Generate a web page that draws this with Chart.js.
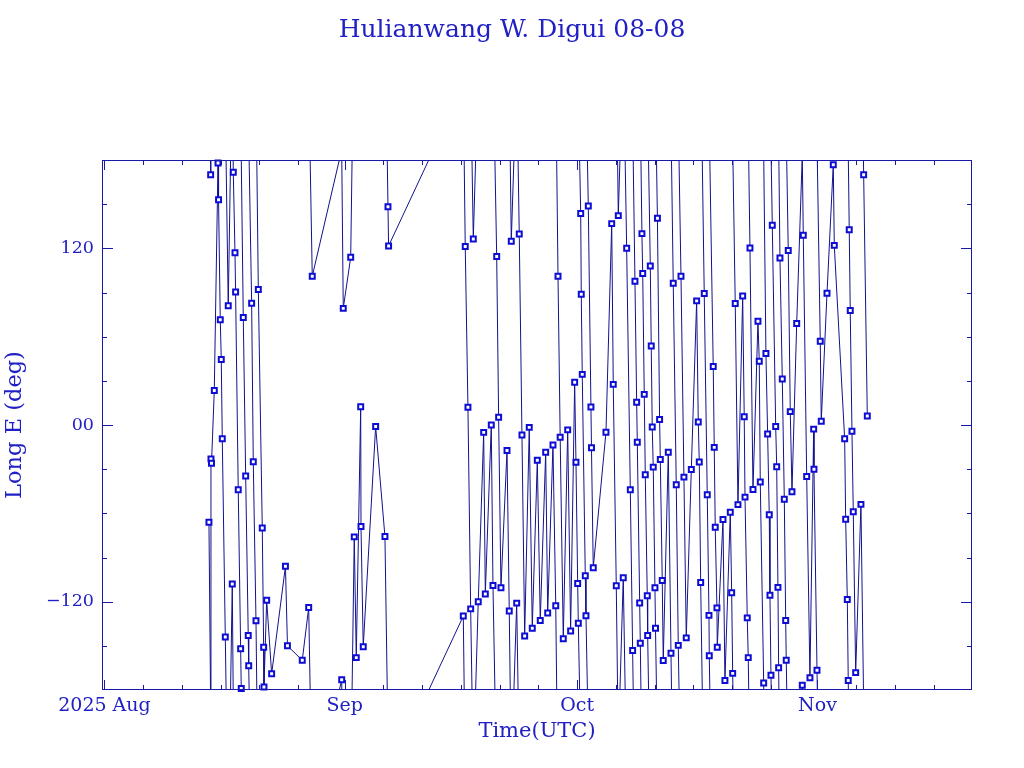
<!DOCTYPE html>
<html>
<head>
<meta charset="utf-8">
<title>Hulianwang W. Digui 08-08</title>
<script src="https://cdn.jsdelivr.net/npm/chart.js@4.4.1/dist/chart.umd.min.js"></script>
<style>
  html, body { margin: 0; padding: 0; background: #fff; }
  #wrap { width: 1024px; height: 768px; }
</style>
</head>
<body>
<div id="wrap"><canvas id="c" width="1024" height="768"></canvas></div>
<script>
// epoch of each element set, days after 2025-08-01 00:00 UTC
const dayOffset = [
  13.48, 13.70, 13.74, 13.81, 14.17, 14.65, 14.72, 14.94, 15.07, 15.20,
  15.59, 15.97, 16.49, 16.62, 16.84, 16.92, 17.26, 17.57, 17.65, 17.91,
  18.22, 18.55, 18.61, 18.99, 19.20, 19.55, 19.85, 20.36, 20.54, 20.58,
  20.93, 21.57, 23.35, 23.61, 25.52, 26.35, 26.81, 30.61, 30.81, 31.77,
  32.23, 32.49, 33.06, 33.10, 33.39, 34.99, 36.19, 36.58, 36.66,
  46.30, 46.55, 46.90, 47.25, 47.59, 48.23, 48.93, 49.14, 49.91, 50.13,
  50.61, 50.86, 51.16, 51.94, 52.23, 52.49, 53.19, 53.52, 53.87, 54.22,
  54.81, 55.20, 55.85, 56.23, 56.93, 57.19, 57.87, 58.23, 58.52, 58.80,
  59.20, 59.77, 60.15, 60.67, 60.84, 61.06, 61.14, 61.45, 61.52, 61.65,
  62.04, 62.13, 62.43, 62.77, 62.84, 63.07, 64.71, 65.45, 65.65, 66.04,
  66.30, 66.94, 67.38, 67.85, 68.15, 68.45, 68.67, 68.75, 69.06, 69.14,
  69.35, 69.45, 69.65, 69.78, 70.04, 70.09, 70.43, 70.55, 70.68, 70.81,
  71.03, 71.10, 71.35, 71.63, 71.72, 71.97, 72.10, 72.75, 73.10, 73.39,
  73.78, 74.04, 74.39, 74.77, 75.07, 75.72, 76.41, 76.62, 76.75, 76.93,
  77.39, 77.78, 78.00, 78.04, 78.55, 78.68, 78.81, 79.03, 79.07, 79.81,
  80.06, 80.75, 80.93, 81.06, 81.39, 81.74, 82.35, 82.55, 82.65, 82.94,
  83.07, 83.29, 83.68, 84.32, 84.49, 84.62, 85.06, 85.35, 85.57, 85.78,
  85.87, 86.00, 86.17, 86.61, 86.74, 86.90, 86.99, 87.16, 87.46, 87.72,
  87.90, 87.97, 88.23, 88.49, 88.71, 89.32, 90.04, 90.17, 90.61, 91.03,
  91.51, 91.55, 91.94, 92.36, 92.49, 93.23, 94.04, 94.17, 95.51, 95.64,
  95.85, 95.97, 96.10, 96.23, 96.45, 96.62, 96.93, 97.61, 97.96, 98.43
];
// sub-satellite longitude at epoch, degrees east
const longitudeE = [
  -66, 170, -23, -26, 23.4, 178, 153, 71.5, 44.5, -9.4,
  -144, 81, -108, 171.7, 117, 90.4, -44, -152, -179, 73,
  -34.6, -143, -163.5, 82.7, -25, -133, 92, -70, -151, -178,
  -119, -169, -96, -150, -159.8, -124, 101, -173, 79.2, 113.9,
  -76, -158, 12.4, -69, -150.6, -1, -75.7, 148.3, 121.6,
  -129.8, 121.3, 12, -124.9, 126.3, -120, -5, -114.8, 0, -109,
  114.5, 5.2, -110.6, -17.3, -126.3, 124.8, -121, 129.8, -6.8, -143.3,
  -1.6, -138, -24, -132.8, -18.5, -127.7, -13.6, -122.8, 101, -8.3,
  -145.2, -3.3, -139.9, 29, -25.3, -107.7, -134.7, 143.6, 88.8, 34.4,
  -102.4, -129.6, 148.8, 12.2, -15.5, -97, -4.9, 136.8, 27.6, -109.2,
  142.2, -103.8, 120, -44, -153.2, 97.7, 15.5, -11.7, -120.9, -148.3,
  130, 102.9, 20.8, -33.8, -116, -143, 108, 53.7, -1.4, -28.6,
  -110.6, -138, 140.5, 3.8, -23.4, -105.6, -160, -18.5, -155, 96.3,
  -40.6, -149.7, 101, -35.4, -144.6, -30.2, 84.3, 2.1, -25.1, -107,
  89.3, -47.4, -129.3, -156.7, 39.8, -15.2, -69.4, -124.2, -151, -64.2,
  -173.6, -59.3, -114, -168.7, 82.5, -54.1, 87.6, 5.6, -49, -131,
  -158, 120.2, -43.8, 70.5, 43.3, -38.7, -175.2, 48.5, -6.1, -61,
  -115.7, -170, 135.7, -1, -28.3, -110.3, -164.9, 113.4, 31.2, -50.4,
  -132.8, -159.8, 118.5, 9.1, -45.3, 68.9, -176.8, 128.9, -35, -171.7,
  -2.8, -30, -166.6, 56.9, 2.6, 89.5, 176.8, 122, -9.4, -64,
  -118.5, -173.6, 132.6, 77.8, -4.2, -58.9, -168.2, -53.9, 170, 6.1
];

// time axis (days after 2025-08-01)
const xMin = -0.32;
const xMax = 111.94;
const monthTicks = [0, 31, 61, 92];
const monthLabels = ['2025 Aug', 'Sep', 'Oct', 'Nov'];
const minorDayTicks = [5, 10, 15, 20, 25, 36, 41, 46, 51, 56, 66, 71, 76, 81, 86, 97, 102, 107];

// longitude axis
const lonTicks = [-150, -120, -90, -60, -30, 0, 30, 60, 90, 120, 150];
const lonLabels = { '-120': '\u2212120', '0': '00', '120': '120' };

const textColor = '#2020c4';
const axisColor = '#1a1aa8';
const lineColor = '#12128c';
const markColor = '#0c0cd4';
const fontFam = "'DejaVu Serif', 'Liberation Serif', serif";

const points = dayOffset.map((d, i) => ({ x: d, y: longitudeE[i] })).sort((a, b) => a.x - b.x);

// connect consecutive epochs the short way round; a wrap runs off one edge and back in at the other
const track = [points[0]];
for (let i = 1; i < points.length; i++) {
  const p1 = points[i - 1], p2 = points[i];
  const dl = p2.y - p1.y;
  if (Math.abs(dl) <= 180) {
    track.push(p2);
  } else {
    const s = dl > 0 ? -360 : 360;
    track.push({ x: p2.x, y: p2.y + s });
    track.push({ x: p2.x, y: null });
    track.push({ x: p1.x, y: p1.y - s });
    track.push(p2);
  }
}

// frame with inward ticks on all four sides
const frameTicks = {
  id: 'frameTicks',
  afterDatasetsDraw(chart) {
    const { ctx, chartArea: a, scales: { x, y } } = chart;
    ctx.save();
    ctx.strokeStyle = axisColor;
    ctx.lineWidth = 1;
    ctx.strokeRect(a.left + 0.5, a.top + 0.5, a.right - a.left - 1, a.bottom - a.top - 1);
    ctx.beginPath();
    const xt = (v, len) => {
      const px = Math.round(x.getPixelForValue(v)) + 0.5;
      ctx.moveTo(px, a.bottom); ctx.lineTo(px, a.bottom - len);
      ctx.moveTo(px, a.top); ctx.lineTo(px, a.top + len);
    };
    const yt = (v, len) => {
      const py = Math.round(y.getPixelForValue(v)) + 0.5;
      ctx.moveTo(a.left, py); ctx.lineTo(a.left + len, py);
      ctx.moveTo(a.right, py); ctx.lineTo(a.right - len, py);
    };
    monthTicks.forEach(v => xt(v, 10));
    minorDayTicks.forEach(v => xt(v, 5));
    lonTicks.forEach(v => yt(v, v % 120 === 0 ? 11 : 5));
    ctx.stroke();
    ctx.restore();
  }
};

new Chart(document.getElementById('c'), {
  type: 'line',
  data: {
    datasets: [
      {
        label: 'epochs',
        data: points,
        showLine: false,
        pointStyle: 'rect',
        pointRadius: 3.5,
        pointBorderWidth: 2,
        pointBorderColor: markColor,
        pointBackgroundColor: '#ffffff',
        clip: false
      },
      {
        label: 'track',
        data: track,
        borderColor: lineColor,
        borderWidth: 1,
        pointRadius: 0,
        tension: 0,
        spanGaps: false,
        clip: 0
      }
    ]
  },
  options: {
    responsive: false,
    animation: false,
    events: [],
    layout: { padding: 0 },
    plugins: {
      legend: { display: false },
      tooltip: { enabled: false },
      title: {
        display: true,
        text: 'Hulianwang W. Digui 08-08',
        color: textColor,
        font: { family: fontFam, size: 25, weight: 'normal' },
        padding: { top: 15, bottom: 115 }
      }
    },
    scales: {
      x: {
        type: 'linear',
        min: xMin,
        max: xMax,
        afterBuildTicks: s => { s.ticks = monthTicks.map(v => ({ value: v })); },
        afterFit: s => { s.height = 78; },
        grid: { display: false, drawTicks: false },
        border: { display: false },
        ticks: {
          autoSkip: false,
          maxRotation: 0,
          padding: 5,
          color: textColor,
          font: { family: fontFam, size: 19 },
          callback: (v, i) => monthLabels[i]
        },
        title: {
          display: true,
          text: 'Time(UTC)',
          color: textColor,
          font: { family: fontFam, size: 21 },
          padding: { top: 0, bottom: 23.4 }
        }
      },
      y: {
        min: -180,
        max: 180,
        afterBuildTicks: s => { s.ticks = lonTicks.map(v => ({ value: v })); },
        afterFit: s => { s.width = 102; },
        grid: { display: false, drawTicks: false },
        border: { display: false },
        ticks: {
          autoSkip: false,
          padding: 8,
          color: textColor,
          font: { family: fontFam, size: 17.5 },
          callback: v => lonLabels[v] ?? ''
        },
        title: {
          display: true,
          text: 'Long E (deg)',
          color: textColor,
          font: { family: fontFam, size: 22.5 },
          padding: { top: 1.5, bottom: 0 }
        }
      },
      // empty right-hand axis, only to keep the right margin
      yRight: {
        position: 'right',
        min: -180,
        max: 180,
        afterFit: s => { s.width = 52; },
        grid: { display: false, drawTicks: false },
        border: { display: false },
        ticks: { display: false }
      }
    }
  },
  plugins: [frameTicks]
});
</script>
</body>
</html>
